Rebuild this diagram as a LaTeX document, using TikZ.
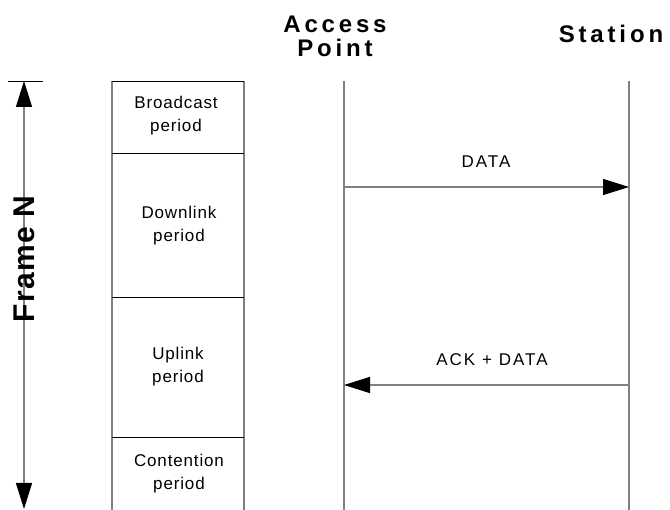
\documentclass[tikz,border=0pt]{standalone}
\usepackage{fontspec}
\setmainfont{Liberation Sans}
\newfontfamily\lblfont[LetterSpace=5]{Liberation Sans}
\newfontfamily\msgfont[LetterSpace=12]{Liberation Sans}
\newfontfamily\ttlfont[LetterSpace=16]{Liberation Sans}
\newfontfamily\sidefont[LetterSpace=4]{Liberation Sans}
\usetikzlibrary{arrows.meta}
\tikzset{
  life/.style={draw=gray, line width=1.4pt},
  sep/.style={draw=black, line width=0.9pt},
  msg/.style={draw=gray, line width=1.4pt, -{Triangle[length=26pt,width=16pt,color=black]}},
  span/.style={draw=gray, line width=1.4pt, {Triangle[length=26pt,width=16pt,color=black]}-{Triangle[length=26pt,width=16pt,color=black]}},
  lbl/.style={align=center, inner sep=0pt, font=\lblfont\fontsize{17}{23}\selectfont},
  msglbl/.style={align=center, inner sep=0pt, font=\msgfont\fontsize{17}{23}\selectfont},
  ttl/.style={align=center, inner sep=0pt, font=\ttlfont\bfseries\fontsize{24}{24}\selectfont},
  side/.style={inner sep=0pt, rotate=90, font=\sidefont\bfseries\fontsize{30}{32}\selectfont}
}
\begin{document}
\begin{tikzpicture}[x=1pt, y=-1pt]
\useasboundingbox (0,0) rectangle (670,510);

% headers
\node[ttl] (aphead) at (335,36) {Access\\Point};
\node[ttl] (sthead) at (611,34) {Station};

% frame extent arrow
\coordinate (fTop) at (24,81);
\coordinate (fBot) at (24,509);
\coordinate (tickL) at (8,81);
\coordinate (tickR) at (43,81);
\draw[sep] (tickL) -- (tickR);
\draw[span] (fTop) -- (fBot);
\node[side] (frame) at (24,259) {Frame N};

% period column
\coordinate (c0L) at (112,81);  \coordinate (c0R) at (244,81);
\coordinate (c1L) at (112,153); \coordinate (c1R) at (244,153);
\coordinate (c2L) at (112,297); \coordinate (c2R) at (244,297);
\coordinate (c3L) at (112,437); \coordinate (c3R) at (244,437);
\coordinate (c4L) at (112,510); \coordinate (c4R) at (244,510);
\draw[life, line width=1.2pt] (c0L) -- (c4L);
\draw[life, line width=1.2pt] (c0R) -- (c4R);
\draw[sep] (c0L) -- (c0R);
\draw[sep] (c1L) -- (c1R);
\draw[sep] (c2L) -- (c2R);
\draw[sep] (c3L) -- (c3R);

\node[lbl] (bcast) at (176,116) {Broadcast\\period};
\node[lbl] (down)  at (179,226) {Downlink\\period};
\node[lbl] (up)    at (178,367) {Uplink\\period};
\node[lbl] (cont)  at (179,474) {Contention\\period};

% lifelines
\coordinate (apTop) at (344,81);  \coordinate (apBot) at (344,510);
\coordinate (stTop) at (629,81);  \coordinate (stBot) at (629,510);
\draw[life] (apTop) -- (apBot);
\draw[life] (stTop) -- (stBot);

% messages
\coordinate (dAP) at (344,187); \coordinate (dST) at (629,187);
\coordinate (aAP) at (344,385); \coordinate (aST) at (629,385);
\draw[msg] (dAP) -- (dST);
\draw[msg] (aST) -- (aAP);
\node[msglbl] (datalbl) at (486,162) {DATA};
\node[msglbl] (acklbl)  at (492,360) {ACK + DATA};
\end{tikzpicture}
\end{document}
